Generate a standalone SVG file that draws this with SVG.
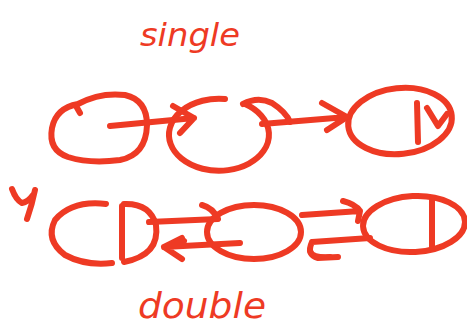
<svg xmlns="http://www.w3.org/2000/svg" width="467" height="333" viewBox="0 0 467 333">
<style>
.s{fill:none;stroke:#EE3A24;stroke-width:6;stroke-linecap:round;stroke-linejoin:round}
.t{fill:#EE3A24;font-family:"DejaVu Sans",sans-serif;font-style:italic}
</style>
<rect width="467" height="333" fill="#fff"/>
<text class="t" x="140" y="46" font-size="32" textLength="100" lengthAdjust="spacingAndGlyphs">single</text>
<text class="t" x="138" y="318" font-size="36" textLength="128" lengthAdjust="spacingAndGlyphs">double</text>
<path class="s" d="M12 189 Q16 200 22 203 Q28 202 33 195 M35 190 Q32 205 27 219"/>
<g id="node1">
<path class="s" d="M78 104 Q100 92 125 95 Q147 100 147 125 Q146 155 120 160 Q90 164 68 157 Q48 150 52 128 Q56 108 78 104 Z"/>
<path class="s" d="M76 106 L80 113"/>
</g>
<g id="node2">
<path class="s" d="M225 99 A50 36 0 1 0 245 104"/>
<path class="s" d="M243 104 Q258 96 272 103 Q286 112 290 122" stroke-width="8"/>
</g>
<g id="node3">
<ellipse class="s" cx="400" cy="121" rx="52" ry="33" transform="rotate(-6 400 121)"/>
<path class="s" d="M417 103 L418 142 M427 108 L438 126 L447 114"/>
</g>
<g id="node4">
<path class="s" d="M106 204 Q72 200 55 220 Q45 240 65 255 Q85 266 112 263"/>
<path class="s" d="M122 206 L122 258 M124 204 Q150 203 156 225 Q160 255 124 262"/>
</g>
<g id="node5">
<ellipse class="s" cx="254" cy="232" rx="47" ry="27"/>
</g>
<g id="node6">
<ellipse class="s" cx="414" cy="224" rx="51" ry="28" transform="rotate(-3 414 224)"/>
<path class="s" d="M432 199 L432 248"/>
</g>
<g id="connectors">
<path class="s" d="M110 126 L194 118 M173 106 L194 118 L180 133"/>
<path class="s" d="M262 124 L347 117 M322 103 L347 117 L327 130"/>
<path class="s" d="M149 222 L218 219 M202 205 Q213 208 218 219"/>
<path class="s" d="M240 243 L164 247 M182 238 L164 247 L182 259 M176 245 Q180 238 184 241"/>
<path class="s" d="M302 215 L360 211 M343 201 Q355 204 360 211 L358 221"/>
<path class="s" d="M370 238 L312 242 M312 242 Q306 255 318 258 L338 257"/>
<path class="s" d="M310 251 Q312 258 330 257" stroke-width="9"/>
</g>
</svg>
